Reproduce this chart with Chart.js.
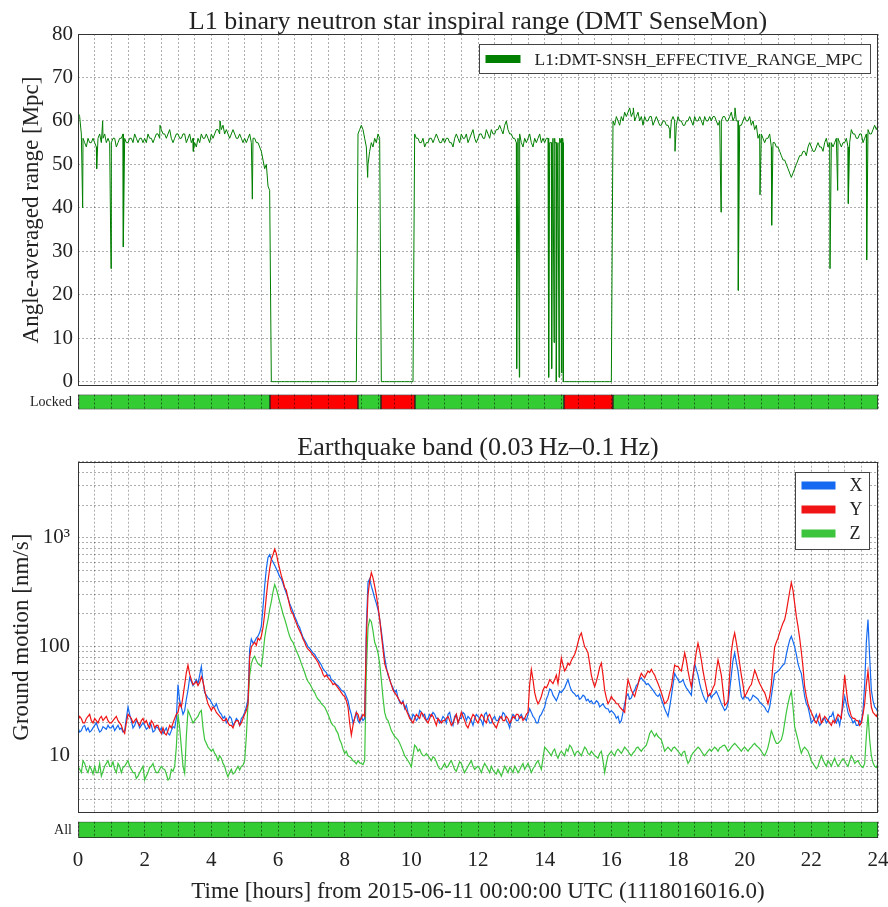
<!DOCTYPE html>
<html>
<head>
<meta charset="utf-8">
<title>L1 range and ground motion</title>
<script src="https://cdn.jsdelivr.net/npm/chart.js@4.4.1/dist/chart.umd.min.js"></script>
<style>
  html, body { margin: 0; padding: 0; background: #fff; }
  #page { position: relative; width: 888px; height: 907px; }
  canvas { position: absolute; left: 0; }
</style>
</head>
<body>
<div id="page">
  <canvas id="rangeCanvas" width="888" height="390" style="top:0px"></canvas>
  <canvas id="lockCanvas" width="888" height="25" style="top:390px"></canvas>
  <canvas id="motionCanvas" width="888" height="397" style="top:420px"></canvas>
  <canvas id="allCanvas" width="888" height="90" style="top:817px"></canvas>
</div>
<script>
// ---- data ----
const sampleStep = 0.05;  // hours between samples, all series
const hourTicks = [0, 2, 4, 6, 8, 10, 12, 14, 16, 18, 20, 22, 24];
const rangeTicks = [0, 10, 20, 30, 40, 50, 60, 70, 80];

// inspiral range, Mpc (one row per hour)
const rangeBase = [
  62, 61, 57, 56, 55, 54, 56, 55, 55, 56, 55, 54, 56, 57, 55, 56, 57, 55, 56, 55,
  55, 56, 56, 54, 55, 56, 56, 57, 56, 55, 55, 56, 56, 55, 57, 56, 55, 56, 56, 55,
  56, 55, 57, 56, 56, 55, 56, 57, 57, 56, 58, 57, 57, 56, 57, 58, 56, 55, 56, 57,
  57, 56, 56, 57, 57, 55, 56, 57, 55, 56, 55, 54, 56, 55, 57, 56, 56, 57, 56, 55,
  57, 56, 57, 58, 58, 57, 58, 59, 57, 58, 57, 56, 57, 58, 57, 56, 56, 57, 56, 55,
  56, 55, 56, 57, 55, 56, 56, 55, 55, 54, 53, 51, 49, 50, 45, 44, 0, 0, 0, 0,
  0, 0, 0, 0, 0, 0, 0, 0, 0, 0, 0, 0, 0, 0, 0, 0, 0, 0, 0, 0,
  0, 0, 0, 0, 0, 0, 0, 0, 0, 0, 0, 0, 0, 0, 0, 0, 0, 0, 0, 0,
  0, 0, 0, 0, 0, 0, 0, 0, 57, 58, 59, 58, 56, 54, 50, 53, 55, 54, 56, 55,
  57, 56, 0, 0, 0, 0, 0, 0, 0, 0, 0, 0, 0, 0, 0, 0, 0, 0, 0, 0,
  0, 0, 57, 56, 56, 55, 55, 56, 54, 55, 55, 56, 56, 55, 56, 57, 56, 55, 55, 56,
  55, 56, 56, 55, 55, 54, 56, 57, 56, 55, 57, 56, 56, 57, 55, 56, 57, 58, 56, 55,
  56, 57, 57, 56, 56, 58, 57, 56, 58, 57, 57, 58, 58, 59, 58, 57, 59, 60, 58, 57,
  57, 56, 56, 55, 56, 57, 55, 54, 56, 55, 56, 57, 55, 54, 56, 55, 56, 57, 55, 56,
  55, 56, 56, 55, 55, 56, 56, 55, 55, 56, 56, 55, 0, 0, 0, 0, 0, 0, 0, 0,
  0, 0, 0, 0, 0, 0, 0, 0, 0, 0, 0, 0, 0, 0, 0, 0, 0, 0, 0, 0,
  0, 60, 59, 61, 60, 59, 61, 60, 62, 61, 62, 63, 61, 62, 60, 61, 62, 60, 61, 59,
  61, 60, 60, 61, 61, 59, 60, 61, 60, 59, 59, 60, 60, 59, 59, 58, 60, 61, 60, 59,
  61, 60, 60, 59, 59, 60, 60, 61, 60, 59, 61, 60, 60, 61, 60, 59, 61, 60, 60, 61,
  60, 61, 61, 60, 59, 60, 60, 61, 61, 60, 60, 61, 62, 60, 61, 60, 60, 59, 59, 60,
  61, 60, 60, 61, 59, 60, 58, 59, 56, 57, 57, 56, 55, 56, 56, 57, 54, 55, 55, 54,
  54, 53, 52, 51, 51, 50, 49, 48, 47, 48, 49, 50, 51, 52, 52, 53, 53, 52, 54, 55,
  54, 53, 53, 54, 55, 54, 54, 53, 55, 56, 54, 55, 55, 54, 55, 56, 56, 55, 54, 55,
  55, 56, 54, 55, 58, 57, 57, 56, 56, 57, 57, 55, 56, 57, 58, 57, 57, 58, 59, 58,
  59
];
// short glitches between the regular samples: [hour, Mpc]
const rangeDips = [
  [0.14, 40], [0.56, 49], [0.74, 60], [0.99, 26], [1.36, 31], [2.46, 59],
  [3.46, 53], [4.26, 60], [5.23, 42], [8.69, 47],
  [13.16, 3], [13.24, 1], [14.12, 1], [14.16, 55], [14.21, 3], [14.24, 54],
  [14.28, 9], [14.31, 55], [14.35, 0], [14.39, 54], [14.43, 1], [14.47, 55],
  [14.51, 2], [14.54, 56], [14.56, 0],
  [16.66, 63], [17.76, 56], [17.91, 53], [19.29, 39], [19.71, 63], [19.81, 21],
  [20.46, 43], [20.81, 36], [22.56, 26], [22.79, 44], [23.11, 41], [23.66, 28]
];

const lockStart = [0, 5.76, 8.4, 9.09, 10.11, 14.58, 16.05];
const lockEnd = [5.76, 8.4, 9.09, 10.11, 14.58, 16.05, 24];
const lockOn = [true, false, true, false, true, false, true];

// ground motion, nm/s (one row per hour)
const motionX = [
  18, 16.5, 17, 18.5, 19, 17, 18, 16.5, 17, 18, 19, 20, 18, 16.5, 17, 18.5, 18, 17.5, 19, 18,
  18, 19, 17, 18, 19, 17.5, 18, 16.5, 17, 22, 28, 24, 21, 18, 19, 21, 20, 18, 19, 20,
  19, 17.5, 18, 20, 19, 16.5, 17, 18.5, 18, 17, 18, 16, 17, 18, 16, 15.5, 17, 18.5, 18, 22,
  45, 32, 28, 24, 26, 33, 40, 52, 48, 44, 47, 50, 46, 55, 66, 48, 38, 36, 34, 33,
  31, 29, 28, 30, 27, 25, 24, 22, 23, 20, 21, 23, 22, 19, 20, 22, 21, 19, 22, 23,
  25, 28, 33, 95, 118, 108, 112, 120, 125, 135, 155, 230, 360, 520, 660, 700, 640, 600, 560, 520,
  480, 440, 420, 380, 340, 310, 280, 250, 230, 210, 190, 175, 160, 150, 135, 122, 115, 108, 100, 97,
  92, 88, 85, 80, 76, 72, 68, 63, 60, 58, 54, 55, 50, 49, 47, 45, 44, 42, 40, 39,
  38, 35, 32, 27, 24, 20, 22, 25, 21, 20, 23, 21, 22, 150, 390, 420, 360, 320, 280, 250,
  220, 180, 140, 105, 80, 65, 55, 50, 45, 42, 38, 40, 34, 31, 30, 32, 27, 29, 25, 23,
  21, 24, 23, 21, 22, 26, 25, 23, 24, 21, 22, 24, 23, 25, 24, 22, 22, 20, 21, 23,
  22, 20, 24, 25, 21, 19, 23, 24, 20, 22, 22, 25, 24, 21, 23, 22, 21, 19, 22, 24,
  23, 22, 21, 19, 24, 25, 22, 20, 20, 22, 23, 21, 21, 23, 22, 25, 24, 21, 20, 18,
  22, 24, 23, 21, 21, 23, 24, 22, 22, 21, 24, 27, 25, 23, 22, 20, 20, 23, 24, 26,
  28, 33, 36, 41, 40, 36, 34, 32, 35, 39, 38, 40, 42, 46, 50, 44, 40, 38, 37, 35,
  36, 33, 34, 36, 35, 32, 33, 31, 32, 30, 30, 32, 31, 28, 29, 30, 28, 27, 27, 25,
  26, 25, 24, 22, 23, 20, 21, 25, 30, 35, 37, 33, 34, 38, 40, 44, 46, 50, 52, 49,
  48, 45, 46, 44, 42, 40, 38, 36, 35, 37, 33, 30, 27, 25, 23, 28, 35, 45, 57, 53,
  50, 47, 48, 50, 45, 42, 40, 38, 36, 52, 70, 62, 55, 46, 40, 36, 33, 31, 35, 37,
  34, 36, 37, 39, 36, 33, 30, 28, 26, 27, 30, 40, 55, 75, 88, 72, 60, 45, 35, 33,
  36, 34, 34, 32, 33, 36, 35, 34, 33, 31, 30, 29, 28, 26, 25, 28, 35, 45, 57, 58,
  60, 62, 65, 68, 70, 85, 100, 115, 125, 112, 100, 85, 70, 62, 57, 45, 35, 30, 28, 24,
  20, 21, 22, 24, 21, 19, 20, 22, 22, 20, 21, 23, 23, 25, 21, 20, 22, 19, 24, 28,
  35, 30, 25, 23, 22, 20, 21, 19, 19, 21, 20, 26, 45, 110, 178, 80, 40, 32, 28, 27,
  25
];
const motionY = [
  21, 23, 22, 20, 20, 22, 23, 24, 21, 20, 22, 21, 20, 22, 23, 21, 22, 23, 21, 20,
  20, 21, 22, 23, 21, 20, 19, 17, 16, 20, 24, 23, 22, 20, 21, 22, 20, 19, 21, 22,
  20, 21, 19, 18, 21, 20, 18, 19, 19, 17, 16, 18, 16, 15.5, 17, 19, 18, 20, 22, 24,
  25, 30, 28, 35, 45, 58, 68, 56, 50, 45, 46, 48, 44, 47, 53, 48, 40, 34, 30, 28,
  26, 28, 27, 25, 24, 23, 22, 21, 21, 22, 20, 19, 19, 18, 20, 21, 21, 19, 20, 22,
  24, 26, 30, 80, 100, 105, 110, 103, 120, 115, 125, 150, 200, 290, 400, 520, 636, 700, 787, 720,
  600, 520, 450, 400, 350, 330, 280, 240, 210, 200, 180, 165, 150, 140, 130, 118, 110, 100, 95, 92,
  88, 84, 80, 76, 72, 66, 62, 56, 53, 55, 52, 50, 48, 45, 46, 44, 42, 40, 38, 36,
  35, 32, 28, 20, 15.5, 19, 22, 25, 24, 21, 22, 24, 23, 120, 300, 400, 480, 430, 360, 300,
  236, 180, 130, 95, 70, 62, 57, 50, 45, 40, 38, 36, 34, 32, 30, 31, 28, 26, 24, 22,
  21, 20, 22, 24, 23, 22, 25, 24, 22, 21, 20, 22, 24, 23, 21, 19, 22, 21, 20, 21,
  21, 22, 23, 21, 19, 20, 22, 24, 20, 22, 25, 23, 21, 19, 18, 20, 22, 24, 23, 21,
  20, 22, 24, 23, 21, 20, 23, 24, 22, 20, 19, 18, 20, 22, 23, 21, 21, 23, 22, 20,
  21, 23, 22, 24, 24, 22, 23, 21, 22, 24, 25, 45, 62, 50, 38, 33, 30, 32, 35, 40,
  43, 42, 45, 50, 48, 46, 50, 55, 46, 60, 79, 68, 60, 64, 71, 68, 75, 80, 85, 95,
  110, 125, 134, 115, 100, 95, 88, 70, 55, 48, 43, 48, 55, 65, 71, 55, 40, 34, 30, 32,
  35, 33, 32, 30, 30, 28, 27, 26, 25, 38, 50, 45, 40, 37, 35, 40, 45, 52, 57, 54,
  52, 56, 60, 58, 62, 58, 55, 50, 46, 42, 38, 34, 30, 31, 33, 38, 43, 55, 68, 66,
  66, 62, 60, 72, 88, 75, 60, 50, 43, 55, 70, 90, 108, 92, 76, 60, 50, 42, 35, 36,
  38, 42, 45, 60, 76, 65, 55, 40, 29, 30, 32, 55, 90, 115, 134, 110, 88, 70, 55, 45,
  35, 37, 40, 43, 45, 52, 61, 56, 50, 46, 43, 40, 38, 34, 30, 35, 45, 70, 100, 110,
  120, 135, 150, 165, 178, 210, 260, 320, 389, 330, 250, 190, 154, 120, 90, 65, 43, 35, 30, 27,
  25, 23, 21, 20, 22, 24, 20, 21, 23, 22, 21, 20, 19, 21, 20, 22, 24, 23, 22, 35,
  55, 40, 30, 26, 23, 22, 22, 21, 21, 19, 20, 24, 30, 45, 60, 40, 28, 25, 24, 23,
  25
];
const motionZ = [
  8, 7.5, 7, 9, 8.5, 7.5, 7, 8, 7.5, 6.8, 8, 7, 7, 8.5, 6.5, 7.2, 8, 8.5, 9, 8,
  8, 8.8, 7.5, 7, 8.5, 8, 7, 7.8, 8, 8.5, 9, 8, 7.5, 7, 7, 6.2, 6.5, 7, 7.5, 8,
  6, 6.5, 7, 7.8, 8, 8.5, 7.5, 7, 7, 7.5, 8, 7.6, 7.5, 6.8, 6, 6.2, 7.5, 7.2, 8, 12,
  24, 18, 12, 8, 6.9, 15, 26, 24, 22, 20, 21, 22, 23, 25, 26, 18, 14, 13, 12, 11.5,
  11, 11.5, 10.5, 10, 9, 10, 9.5, 8.5, 8, 7, 6.4, 7, 7.5, 6.8, 7, 7.5, 8, 7.4, 8, 8.2,
  9, 15, 30, 55, 70, 78, 82, 75, 70, 68, 66, 85, 120, 150, 178, 220, 260, 320, 372, 340,
  300, 260, 230, 200, 180, 160, 140, 125, 115, 110, 100, 92, 85, 78, 70, 64, 58, 52, 48, 46,
  43, 40, 38, 35, 33, 32, 30, 29, 28, 26, 24, 22, 20, 19, 18.5, 17, 16, 14, 13, 11.5,
  10.5, 11, 10, 9.8, 9.5, 9, 8.8, 8.4, 9, 8.6, 8.5, 8.3, 9, 60, 150, 178, 170, 140, 110, 100,
  88, 70, 50, 34, 25, 22, 21, 19, 17, 16, 15, 14.5, 14, 13, 12, 11, 10, 9.5, 9, 8.5,
  7.9, 10, 12.5, 12, 11, 11.5, 10.5, 10, 10, 10.5, 10, 9.5, 9, 9.8, 9.5, 8.8, 8, 7.6, 7.5, 8,
  8.5, 7.8, 8, 8.6, 9, 8.2, 7.5, 7.2, 8, 8.8, 8.5, 7.6, 7, 7.5, 8, 8.5, 9, 8, 7.5, 7.8,
  8, 7.6, 7, 7.8, 8.5, 8, 7.5, 7, 8, 7.4, 7, 6.8, 7.5, 7, 6.5, 7.2, 8, 7.5, 7, 7.8,
  7.5, 7, 8, 7.6, 7, 7.4, 8, 8.5, 7.5, 8, 8.5, 7.8, 7, 7.6, 8, 8.6, 9, 8.2, 7.5, 9.5,
  12, 11.5, 11, 10.5, 10, 11, 11.5, 10.2, 9.5, 10.5, 11, 10.5, 10, 11.5, 11, 12.5, 12, 11, 10, 10.8,
  11, 10.5, 10, 11, 12, 11.5, 10.5, 10.2, 11, 10.5, 10, 9.8, 9.5, 10.5, 11, 9, 7, 8.5, 10, 10.5,
  11, 10.4, 10, 11, 11.5, 11, 10.5, 11.2, 12, 11.5, 11, 10.4, 10, 10.6, 11, 11.8, 12, 11.4, 11, 11.6,
  12, 12.5, 14, 16, 17, 16, 15, 16, 15, 14.5, 14, 12.5, 11, 11.5, 12, 11.5, 11, 11.8, 12, 11.5,
  11, 10.5, 10, 10.8, 11, 9.5, 8.5, 9, 10, 10.6, 11, 11.5, 12, 11.6, 11, 10.4, 10, 10.5, 11, 11.5,
  11, 11.5, 12, 11.6, 11, 11.8, 12, 12.4, 12.5, 11.8, 11, 11.4, 12, 12.5, 13, 12.5, 12, 11.5, 11, 11.6,
  12, 11.5, 11, 11.6, 12, 12.6, 13, 12.4, 12, 11.6, 11, 10.4, 10, 10.8, 12, 14, 17, 15.5, 14, 13,
  13, 13.5, 14, 16, 20, 25, 30, 35, 39, 28, 18.5, 16, 14, 12, 10.5, 11.5, 12, 11.5, 11, 10,
  9, 8.5, 8, 7.6, 8, 9, 10, 9.2, 8.5, 8, 9, 8.6, 8, 8.8, 9.5, 8.6, 8, 8.4, 9, 9.4,
  9, 8.4, 8, 9, 10, 9.4, 8.5, 8.8, 9, 8.4, 8, 7.8, 8.5, 15, 24, 14, 10, 8.6, 8, 7.8,
  8.5
];
const motionTickLabels = { 10: '10', 100: '100', 1000: '10\u00b3' };
const motionMin = 3, motionMax = 5000;

const allStart = [0];
const allEnd = [24];

// ---- styling ----
const SERIF = "'Liberation Serif', 'DejaVu Serif', serif";
const PLOT_LEFT = 78;        // left edge of every plot area
const DOTS = [2, 2];
const STATE_GREEN = '#33cc33';
const STATE_RED = '#ff0000';

Chart.defaults.font.family = SERIF;
Chart.defaults.color = '#222';
Chart.defaults.animation = false;

const gridStyle = { color: 'rgba(0,0,0,0.32)', lineWidth: 1, drawTicks: false };

function halfHourTicks(scale) {
  const t = [];
  for (let h = 0; h <= 24; h += 0.5) t.push({ value: h });
  scale.ticks = t;
}
function logGridTicks(scale) {
  const t = [];
  for (let d = 1; d <= 1000; d *= 10) {
    for (let m = 1; m <= 9; m++) {
      const v = m * d;
      if (v >= motionMin && v <= motionMax) t.push({ value: v });
    }
  }
  scale.ticks = t;
}
// fixed axis sizes, and no extra room asked for half-overhanging labels
function fixWidth(w) {
  return s => { s.width = w; s.paddingTop = 0; s.paddingBottom = 0; };
}
function fixHeight(h) {
  return s => { s.height = h; s.paddingLeft = 0; s.paddingRight = 0; };
}
const toPoints = arr => arr.map((v, i) => ({ x: +(i * sampleStep).toFixed(2), y: v }));

const rangePoints = toPoints(rangeBase)
  .concat(rangeDips.map(([x, y]) => ({ x, y })))
  .sort((a, b) => a.x - b.x);

// box around the plot area
const frame = {
  id: 'frame',
  afterDatasetsDraw(chart) {
    const { ctx, chartArea: a } = chart;
    ctx.save();
    ctx.strokeStyle = '#333';
    ctx.lineWidth = 1;
    ctx.strokeRect(Math.round(a.left) + 0.5, Math.round(a.top) + 0.5,
      Math.round(a.width) - 1, Math.round(a.height) - 1);
    ctx.restore();
  }
};

// legend box inside the plot, top right
const boxLegend = {
  id: 'boxLegend',
  afterDraw(chart, args, o) {
    const ctx = chart.ctx, area = chart.chartArea, sets = chart.data.datasets;
    ctx.save();
    ctx.font = o.size + 'px ' + SERIF;
    const textW = Math.max(...sets.map(d => ctx.measureText(d.label).width));
    const w = Math.round(o.padX + o.swW + o.gap + textW + o.padRight);
    const h = Math.round(o.padTop + o.rowH * sets.length + o.padBottom);
    const x = Math.round(area.right - o.right - w) + 0.5;
    const y = Math.round(area.top + o.top) + 0.5;
    ctx.fillStyle = '#fff';
    ctx.fillRect(x, y, w, h);
    ctx.strokeStyle = '#444';
    ctx.lineWidth = 1;
    ctx.strokeRect(x, y, w, h);
    ctx.textBaseline = 'middle';
    ctx.textAlign = 'left';
    sets.forEach((d, i) => {
      const cy = y + o.padTop + o.rowH * (i + 0.5);
      ctx.fillStyle = d.borderColor;
      ctx.fillRect(x + o.padX, cy - o.swH / 2, o.swW, o.swH);
      ctx.fillStyle = '#222';
      ctx.fillText(d.label, x + o.padX + o.swW + o.gap, cy + 1);
    });
    ctx.restore();
  }
};

function stateBar(canvasId, label, starts, ends, colors, showAxis) {
  return new Chart(document.getElementById(canvasId), {
    type: 'bar',
    data: {
      datasets: [{
        data: starts.map((s, i) => ({ x: [s, ends[i]], y: label })),
        backgroundColor: colors,
        borderColor: '#222',
        borderWidth: 1,
        borderSkipped: false,
        barPercentage: 1,
        categoryPercentage: 1
      }]
    },
    options: {
      responsive: false,
      indexAxis: 'y',
      layout: { padding: { right: 10, top: showAxis ? 4.7 : 4.5 } },
      plugins: { legend: { display: false }, tooltip: { enabled: false } },
      scales: {
        x: {
          type: 'linear', min: 0, max: 24,
          afterBuildTicks: halfHourTicks,
          afterFit: fixHeight(showAxis ? 69 : 5.5),
          grid: { color: 'rgba(0,0,0,0.5)', drawTicks: false, z: 1 },
          border: { display: false, dash: DOTS },
          ticks: {
            display: showAxis, autoSkip: false, maxRotation: 0, padding: 10,
            font: { size: 21 },
            callback: v => hourTicks.includes(v) ? String(v) : ''
          },
          title: {
            display: showAxis,
            text: 'Time [hours] from 2015-06-11 00:00:00 UTC (1118016016.0)',
            font: { size: 23, lineHeight: 1 },
            padding: { top: 0, bottom: 4 }
          }
        },
        y: {
          type: 'category', labels: [label],
          afterFit: fixWidth(PLOT_LEFT),
          grid: { display: false, drawTicks: false },
          border: { display: false },
          ticks: { font: { size: 14 }, padding: 6 }
        }
      }
    }
  });
}

// ---- top: inspiral range ----
new Chart(document.getElementById('rangeCanvas'), {
  type: 'line',
  data: {
    datasets: [{
      label: 'L1:DMT-SNSH_EFFECTIVE_RANGE_MPC',
      data: rangePoints,
      borderColor: '#007f00',
      borderWidth: 1,
      pointRadius: 0
    }]
  },
  options: {
    responsive: false,
    layout: { padding: { right: 10 } },
    plugins: {
      legend: { display: false },
      tooltip: { enabled: false },
      title: {
        display: true, fullSize: false,
        text: 'L1 binary neutron star inspiral range (DMT SenseMon)',
        color: '#222',
        font: { size: 26, weight: 'normal', lineHeight: 1 },
        padding: { top: 9, bottom: -1 }
      },
      boxLegend: { size: 17.5, top: 10, right: 8, padX: 6, swW: 35, swH: 8, gap: 14, padRight: 8, rowH: 29, padTop: 0, padBottom: 0 }
    },
    scales: {
      x: {
        type: 'linear', min: 0, max: 24,
        afterBuildTicks: halfHourTicks,
        afterFit: fixHeight(4),
        ticks: { display: false },
        grid: gridStyle,
        border: { display: false, dash: DOTS }
      },
      y: {
        min: -1, max: 80,
        afterBuildTicks: s => { s.ticks = rangeTicks.map(v => ({ value: v })); },
        afterFit: fixWidth(PLOT_LEFT),
        ticks: { font: { size: 21 }, padding: 5, autoSkip: false },
        grid: gridStyle,
        border: { display: false, dash: DOTS },
        title: {
          display: true, text: 'Angle-averaged range [Mpc]',
          font: { size: 23, lineHeight: 1 },
          padding: { top: 20.5, bottom: 0 }
        }
      }
    }
  },
  plugins: [frame, boxLegend]
});

stateBar('lockCanvas', 'Locked', lockStart, lockEnd,
  lockOn.map(on => on ? STATE_GREEN : STATE_RED), false);

// ---- bottom: earthquake band ground motion ----
new Chart(document.getElementById('motionCanvas'), {
  type: 'line',
  data: {
    datasets: [
      { label: 'X', data: toPoints(motionX), borderColor: '#1469f0', borderWidth: 1.2, pointRadius: 0, order: 2 },
      { label: 'Y', data: toPoints(motionY), borderColor: '#f01414', borderWidth: 1.2, pointRadius: 0, order: 1 },
      { label: 'Z', data: toPoints(motionZ), borderColor: '#3cc43c', borderWidth: 1.2, pointRadius: 0, order: 3 }
    ]
  },
  options: {
    responsive: false,
    layout: { padding: { right: 10 } },
    plugins: {
      legend: { display: false },
      tooltip: { enabled: false },
      title: {
        display: true, fullSize: false,
        text: 'Earthquake band (0.03\u2009Hz\u20130.1\u2009Hz)',
        color: '#222',
        font: { size: 26, weight: 'normal', lineHeight: 1 },
        padding: { top: 15, bottom: 0.7 }
      },
      boxLegend: { size: 18, top: 10, right: 9, padX: 6, swW: 34, swH: 8, gap: 14, padRight: 7, rowH: 24, padTop: 1, padBottom: 4 }
    },
    scales: {
      x: {
        type: 'linear', min: 0, max: 24,
        afterBuildTicks: halfHourTicks,
        afterFit: fixHeight(4.3),
        ticks: { display: false },
        grid: gridStyle,
        border: { display: false, dash: DOTS }
      },
      y: {
        type: 'logarithmic', min: motionMin, max: motionMax,
        afterBuildTicks: logGridTicks,
        afterFit: fixWidth(PLOT_LEFT),
        ticks: {
          font: { size: 21 }, padding: 8, autoSkip: false,
          callback: v => motionTickLabels[v] || ''
        },
        grid: gridStyle,
        border: { display: false, dash: DOTS },
        title: {
          display: true, text: 'Ground motion [nm/s]',
          font: { size: 23, lineHeight: 1 },
          padding: { top: 10, bottom: 0 }
        }
      }
    }
  },
  plugins: [frame, boxLegend]
});

stateBar('allCanvas', 'All', allStart, allEnd, [STATE_GREEN], true);
</script>
</body>
</html>
